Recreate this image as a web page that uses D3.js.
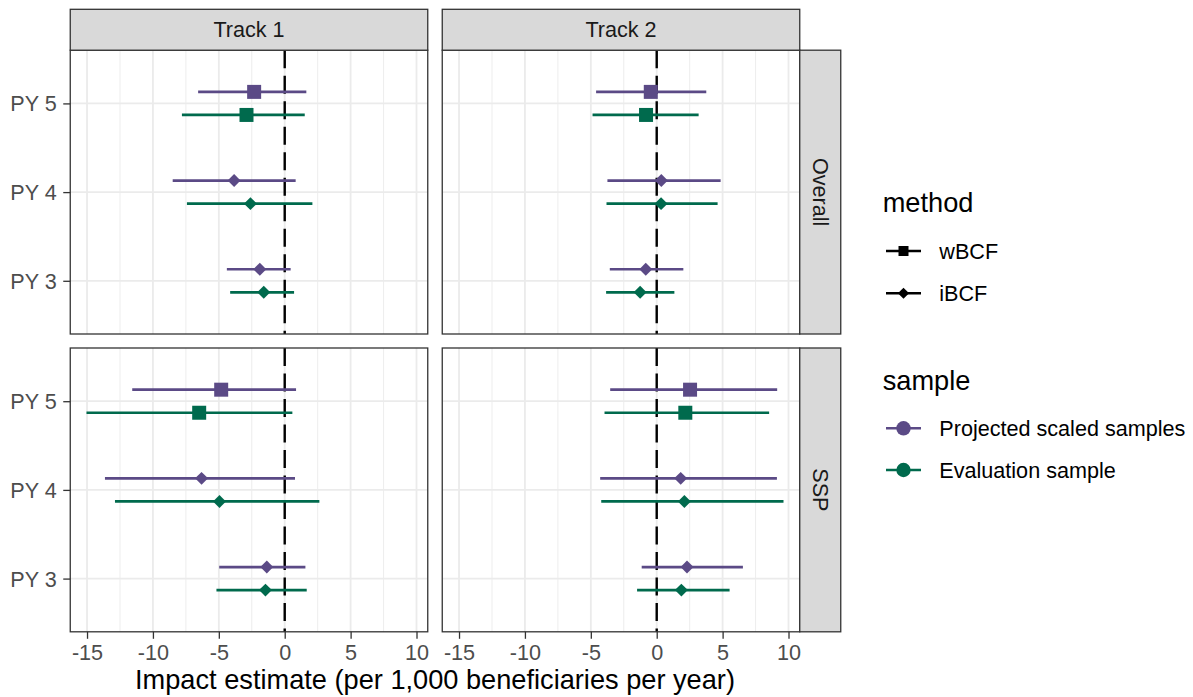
<!DOCTYPE html>
<html>
<head>
<meta charset="utf-8">
<script src="https://cdn.jsdelivr.net/npm/d3@7"></script>
<style>
  html, body { margin: 0; padding: 0; background: #ffffff; }
  svg { display: block; font-family: "Liberation Sans", Arial, Helvetica, sans-serif; }
</style>
</head>
<body>
<svg id="chart" width="1193" height="697"></svg>
<script>
// ---------------- data ----------------
const tracks = ["Track 1", "Track 2"];
const groups = ["Overall", "SSP"];
const years = ["PY 5", "PY 4", "PY 3"];
const yearMethod = ["wBCF", "iBCF", "iBCF"];
const samples = ["Projected scaled samples", "Evaluation sample"];
const methods = ["wBCF", "iBCF"];
const xTicks = [-15, -10, -5, 0, 5, 10];
const xMinor = [-12.5, -7.5, -2.5, 2.5, 7.5];

// order: group (Overall, SSP) > track (Track 1, Track 2) > year (PY 5, PY 4, PY 3)
const projEst = [-2.32, -3.84, -1.89,  -0.45, 0.35, -0.83,   -4.82, -6.31, -1.36,   2.53, 1.82, 2.30];
const projLo  = [-6.57, -8.50, -4.39,  -4.60, -3.74, -3.56,  -11.57, -13.64, -4.97, -3.53, -4.29, -1.14];
const projHi  = [ 1.64,  0.83,  0.45,   3.76, 4.85, 2.02,     0.86, 0.78, 1.57,     9.14, 9.12, 6.54];
const evalEst = [-2.90, -2.60, -1.59,  -0.81, 0.33, -1.26,   -6.49, -4.95, -1.46,   2.17, 2.10, 1.87];
const evalLo  = [-7.80, -7.42, -4.14,  -4.87, -3.81, -3.84,  -15.04, -12.88, -5.18, -3.96, -4.21, -1.49];
const evalHi  = [ 1.52,  2.10,  0.71,   3.18, 4.62, 1.34,     0.58, 2.63, 1.67,     8.53, 9.62, 5.53];

// ---------------- styling / layout ----------------
const colors = {"Projected scaled samples": "#5B4A86", "Evaluation sample": "#006A4D"};
const FONT_SMALL = 21.6, FONT_TITLE = 27.2;
const panelW = 357.5, panelH = 283.8, gapX = 14.5, gapY = 14;
const colX = [70.25, 70.25 + panelW + gapX];
const rowY = [50.2, 50.2 + panelH + gapY];
const stripTopY = 9.3, stripRightW = 41;

// build rows
const rows = [];
groups.forEach((g, gi) => tracks.forEach((t, ti) => years.forEach((yr, yi) => {
  const i = gi * 6 + ti * 3 + yi;
  rows.push({group: g, track: t, year: yr, method: yearMethod[yi], sample: samples[0], est: projEst[i], lo: projLo[i], hi: projHi[i]});
  rows.push({group: g, track: t, year: yr, method: yearMethod[yi], sample: samples[1], est: evalEst[i], lo: evalLo[i], hi: evalHi[i]});
})));

const allLo = d3.min(rows, d => d.lo), allHi = d3.max(rows, d => d.hi);
const ex = (allHi - allLo) * 0.05;
const xDomain = [allLo - ex, allHi + ex];

const svg = d3.select("#chart");
svg.append("rect").attr("width", 1193).attr("height", 697).attr("fill", "#ffffff");

const xScales = colX.map(x0 => d3.scaleLinear().domain(xDomain).range([x0, x0 + panelW]));
const yScales = rowY.map(y0 => d3.scalePoint().domain(years).range([y0, y0 + panelH]).padding(0.6));
const dodge = {"Projected scaled samples": -0.13, "Evaluation sample": 0.13};

const squarePath = d3.symbol(d3.symbolSquare, 196)();
const diamondPath = d3.symbol(d3.symbolSquare, 84)();

groups.forEach((g, gi) => {
  tracks.forEach((t, ti) => {
    const x = xScales[ti], y = yScales[gi];
    const px = colX[ti], py = rowY[gi];
    const p = svg.append("g");
    p.append("rect").attr("x", px).attr("y", py).attr("width", panelW).attr("height", panelH).attr("fill", "#ffffff");
    // minor grid
    p.selectAll(".minor").data(xMinor).join("line")
      .attr("x1", d => x(d)).attr("x2", d => x(d)).attr("y1", py).attr("y2", py + panelH)
      .attr("stroke", "#EBEBEB").attr("stroke-width", 0.9);
    // major grid
    p.selectAll(".majx").data(xTicks).join("line")
      .attr("x1", d => x(d)).attr("x2", d => x(d)).attr("y1", py).attr("y2", py + panelH)
      .attr("stroke", "#EBEBEB").attr("stroke-width", 1.8);
    p.selectAll(".majy").data(years).join("line")
      .attr("x1", px).attr("x2", px + panelW).attr("y1", d => y(d)).attr("y2", d => y(d))
      .attr("stroke", "#EBEBEB").attr("stroke-width", 1.8);
    // reference line at 0
    p.append("line").attr("x1", x(0)).attr("x2", x(0)).attr("y1", py).attr("y2", py + panelH)
      .attr("stroke", "#000000").attr("stroke-width", 2.4).attr("stroke-dasharray", "18,7.5");
    // data
    const pd = rows.filter(r => r.group === g && r.track === t);
    const step = y.step();
    pd.forEach(r => {
      const yy = y(r.year) + dodge[r.sample] * step;
      p.append("line").attr("x1", x(r.lo)).attr("x2", x(r.hi)).attr("y1", yy).attr("y2", yy)
        .attr("stroke", colors[r.sample]).attr("stroke-width", 2.7);
      p.append("path")
        .attr("d", r.method === "wBCF" ? squarePath : diamondPath)
        .attr("transform", `translate(${x(r.est)},${yy})` + (r.method === "wBCF" ? "" : " rotate(45)"))
        .attr("fill", colors[r.sample]);
    });
    // border
    p.append("rect").attr("x", px).attr("y", py).attr("width", panelW).attr("height", panelH)
      .attr("fill", "none").attr("stroke", "#333333").attr("stroke-width", 1.3);

    // x axis on bottom row
    if (gi === groups.length - 1) {
      const ax = svg.append("g").attr("transform", `translate(0,${py + panelH})`)
        .call(d3.axisBottom(x).tickValues(xTicks).tickSize(7).tickSizeOuter(0).tickPadding(6.3).tickFormat(d3.format("d")));
      ax.select(".domain").remove();
      ax.selectAll(".tick line").attr("stroke", "#333333").attr("stroke-width", 1.3);
      ax.selectAll(".tick text").attr("fill", "#4D4D4D").style("font-size", FONT_SMALL + "px")
        .style("font-family", "'Liberation Sans', Arial, sans-serif")
        .text(d => d < 0 ? "-" + Math.abs(d) : String(d));
    }
    // y axis on left column
    if (ti === 0) {
      const ay = svg.append("g").attr("transform", `translate(${px},0)`)
        .call(d3.axisLeft(y).tickSize(7).tickSizeOuter(0).tickPadding(6.5));
      ay.select(".domain").remove();
      ay.selectAll(".tick line").attr("stroke", "#333333").attr("stroke-width", 1.3);
      ay.selectAll(".tick text").attr("fill", "#4D4D4D").attr("dy", "0.35em").style("font-size", FONT_SMALL + "px")
        .style("font-family", "'Liberation Sans', Arial, sans-serif");
    }
  });
});

// top strips
tracks.forEach((t, ti) => {
  const s = svg.append("g");
  s.append("rect").attr("x", colX[ti]).attr("y", stripTopY).attr("width", panelW).attr("height", rowY[0] - stripTopY)
    .attr("fill", "#D9D9D9").attr("stroke", "#333333").attr("stroke-width", 1.3);
  s.append("text").attr("x", colX[ti] + panelW / 2).attr("y", (stripTopY + rowY[0]) / 2 + 7.5)
    .attr("text-anchor", "middle").attr("fill", "#1A1A1A").style("font-size", FONT_SMALL + "px").text(t);
});
// right strips
groups.forEach((g, gi) => {
  const sx = colX[1] + panelW;
  const s = svg.append("g");
  s.append("rect").attr("x", sx).attr("y", rowY[gi]).attr("width", stripRightW).attr("height", panelH)
    .attr("fill", "#D9D9D9").attr("stroke", "#333333").attr("stroke-width", 1.3);
  s.append("text").attr("transform", `translate(${sx + stripRightW / 2},${rowY[gi] + panelH / 2}) rotate(90)`)
    .attr("y", 7.5).attr("text-anchor", "middle").attr("fill", "#1A1A1A").style("font-size", FONT_SMALL + "px").text(g);
});

// axis title
svg.append("text").attr("x", (colX[0] + colX[1] + panelW) / 2).attr("y", 688.8).attr("text-anchor", "middle")
  .attr("fill", "#000000").style("font-size", FONT_TITLE + "px").text("Impact estimate (per 1,000 beneficiaries per year)");

// legends
const lgX = 882.7, keyX0 = 886, keyX1 = 921, labX = 939.3;
const lg = svg.append("g");
lg.append("text").attr("x", lgX).attr("y", 212).attr("fill", "#000").style("font-size", FONT_TITLE + "px").text("method");
const methodY = [251, 293.3];
methods.forEach((m, i) => {
  const yy = methodY[i];
  lg.append("line").attr("x1", keyX0).attr("x2", keyX1).attr("y1", yy).attr("y2", yy).attr("stroke", "#000").attr("stroke-width", 2.6);
  lg.append("path").attr("d", m === "wBCF" ? d3.symbol(d3.symbolSquare, 100)() : d3.symbol(d3.symbolSquare, 62)())
    .attr("transform", `translate(${(keyX0 + keyX1) / 2},${yy})` + (m === "wBCF" ? "" : " rotate(45)")).attr("fill", "#000");
  lg.append("text").attr("x", labX).attr("y", yy + 7.5).attr("fill", "#000").style("font-size", FONT_SMALL + "px").text(m);
});
lg.append("text").attr("x", lgX).attr("y", 390).attr("fill", "#000").style("font-size", FONT_TITLE + "px").text("sample");
const sampleY = [428.3, 470];
samples.forEach((s, i) => {
  const yy = sampleY[i];
  lg.append("line").attr("x1", keyX0).attr("x2", keyX1).attr("y1", yy).attr("y2", yy).attr("stroke", colors[s]).attr("stroke-width", 2.6);
  lg.append("circle").attr("cx", (keyX0 + keyX1) / 2).attr("cy", yy).attr("r", 7.2).attr("fill", colors[s]);
  lg.append("text").attr("x", labX).attr("y", yy + 7.5).attr("fill", "#000").style("font-size", FONT_SMALL + "px").text(s);
});
</script>
</body>
</html>
